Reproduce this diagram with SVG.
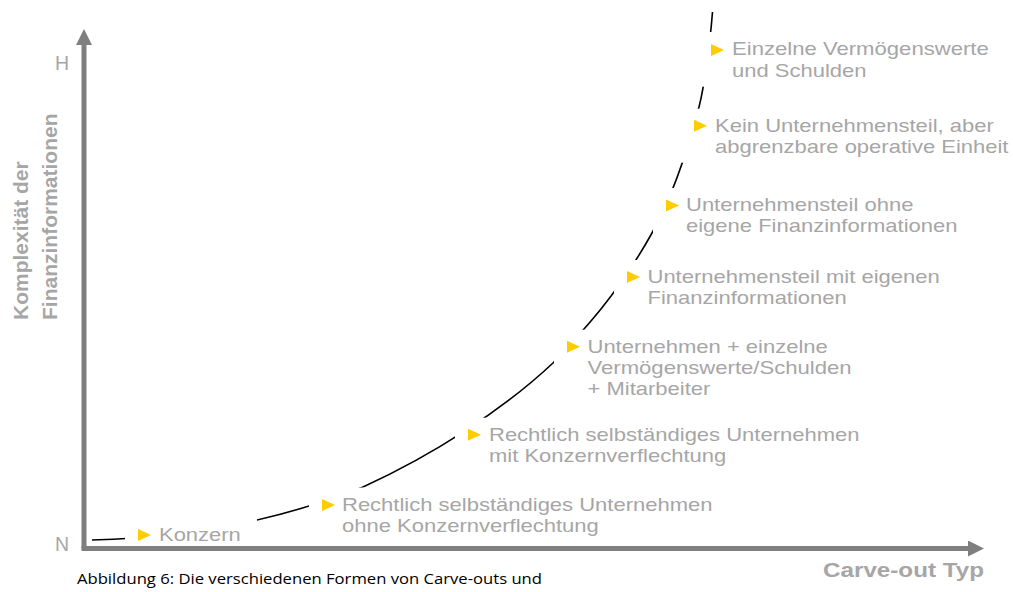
<svg xmlns="http://www.w3.org/2000/svg" width="1013" height="592" viewBox="0 0 1013 592">
  <style>
    .lbl { font-family: "Liberation Sans", Arial, sans-serif; font-size: 19px; fill: #a6a6a6; }
    .axt { font-family: "Liberation Sans", Arial, sans-serif; font-weight: bold; fill: #a6a6a6; }
    .hn { font-family: "Liberation Sans", Arial, sans-serif; font-size: 19.5px; fill: #a6a6a6; }
    .cap { font-family: "Open Sans", "Liberation Sans", sans-serif; font-size: 14.5px; fill: #000000; }
    .bg { fill: #ffffff; }
    .tri { fill: #ffcc00; }
    .curve { fill: none; stroke: #000000; stroke-width: 1.6; }
    .axis { fill: none; stroke: #7f7f7f; stroke-width: 5; }
  </style>
  <defs>
    <marker id="axisHead" viewBox="0 0 16 16" refX="0" refY="8" markerWidth="16" markerHeight="16" markerUnits="userSpaceOnUse" orient="auto">
      <path d="M0,0 L16,8 L0,16 z" fill="#7f7f7f"/>
    </marker>
    <path id="bullet" d="M0,-12 L13,-6 L0,0 z"/>
  </defs>

  <rect width="1013" height="592" fill="#ffffff"/>

  <!-- growth curve; label backgrounds cut it into pieces -->
  <g id="connectors">
    <path class="curve" d="M92,540 C182,538 273,523 363,487 C433,455 503,410 553,363 C584,330 618,294 652,233 C668,204.4 683,168 699,107 C704,88 710,44 712.5,12"/>
  </g>

  <g id="node-konzern">
    <rect class="bg" x="125" y="518" width="132" height="30"/>
    <use href="#bullet" class="tri" x="138" y="541"/>
    <text class="lbl" x="159" y="541" textLength="81.7" lengthAdjust="spacingAndGlyphs">Konzern</text>
  </g>

  <g id="node-ohne-verflechtung">
    <rect class="bg" x="309" y="487.5" width="420" height="52"/>
    <use href="#bullet" class="tri" x="322" y="511"/>
    <text class="lbl" x="342" y="510.5" textLength="370.5" lengthAdjust="spacingAndGlyphs">Rechtlich selbständiges Unternehmen</text>
    <text class="lbl" x="342" y="531.5" textLength="256.8" lengthAdjust="spacingAndGlyphs">ohne Konzernverflechtung</text>
  </g>

  <g id="node-mit-verflechtung">
    <rect class="bg" x="455" y="417.7" width="420" height="54"/>
    <use href="#bullet" class="tri" x="468" y="440.7"/>
    <text class="lbl" x="489" y="440.7" textLength="370.5" lengthAdjust="spacingAndGlyphs">Rechtlich selbständiges Unternehmen</text>
    <text class="lbl" x="489" y="462" textLength="237.2" lengthAdjust="spacingAndGlyphs">mit Konzernverflechtung</text>
  </g>

  <g id="node-unternehmen-plus">
    <rect class="bg" x="554" y="329.7" width="310" height="74"/>
    <use href="#bullet" class="tri" x="567" y="352.7"/>
    <text class="lbl" x="587.5" y="352.7" textLength="240.3" lengthAdjust="spacingAndGlyphs">Unternehmen + einzelne</text>
    <text class="lbl" x="587.5" y="374" textLength="264.1" lengthAdjust="spacingAndGlyphs">Vermögenswerte/Schulden</text>
    <text class="lbl" x="587.5" y="395.3" textLength="122.9" lengthAdjust="spacingAndGlyphs">+ Mitarbeiter</text>
  </g>

  <g id="node-teil-mit-fi">
    <rect class="bg" x="614" y="260" width="340" height="54"/>
    <use href="#bullet" class="tri" x="627" y="283"/>
    <text class="lbl" x="647.5" y="283" textLength="292.2" lengthAdjust="spacingAndGlyphs">Unternehmensteil mit eigenen</text>
    <text class="lbl" x="647.5" y="304.3" textLength="199.3" lengthAdjust="spacingAndGlyphs">Finanzinformationen</text>
  </g>

  <g id="node-teil-ohne-fi">
    <rect class="bg" x="653" y="188" width="330" height="54"/>
    <use href="#bullet" class="tri" x="666" y="211.5"/>
    <text class="lbl" x="686" y="211" textLength="227.4" lengthAdjust="spacingAndGlyphs">Unternehmensteil ohne</text>
    <text class="lbl" x="686" y="232.3" textLength="271.5" lengthAdjust="spacingAndGlyphs">eigene Finanzinformationen</text>
  </g>

  <g id="node-operative-einheit">
    <rect class="bg" x="681" y="108.7" width="332" height="54"/>
    <use href="#bullet" class="tri" x="694" y="131.7"/>
    <text class="lbl" x="715" y="131.7" textLength="278.8" lengthAdjust="spacingAndGlyphs">Kein Unternehmensteil, aber</text>
    <text class="lbl" x="715" y="153" textLength="293.5" lengthAdjust="spacingAndGlyphs">abgrenzbare operative Einheit</text>
  </g>

  <g id="node-einzelne-werte">
    <rect class="bg" x="698" y="32" width="315" height="54.7"/>
    <use href="#bullet" class="tri" x="711" y="56"/>
    <text class="lbl" x="732" y="55" textLength="256.8" lengthAdjust="spacingAndGlyphs">Einzelne Vermögenswerte</text>
    <text class="lbl" x="732" y="76.5" textLength="134.5" lengthAdjust="spacingAndGlyphs">und Schulden</text>
  </g>

  <!-- axes -->
  <g id="axes">
    <path class="axis" d="M84,548.5 L84,45" marker-end="url(#axisHead)"/>
    <path class="axis" d="M81.5,548.5 L968,548.5" marker-end="url(#axisHead)"/>
    <text class="hn" x="55" y="70">H</text>
    <text class="hn" x="55" y="551">N</text>
    <text class="axt" font-size="21" transform="translate(28,320) rotate(-90)">Komplexität der</text>
    <text class="axt" font-size="21" transform="translate(57,320) rotate(-90)">Finanzinformationen</text>
    <text class="axt" font-size="20" x="823" y="577" textLength="161" lengthAdjust="spacingAndGlyphs">Carve-out Typ</text>
  </g>

  <text class="cap" x="77" y="584" textLength="465" lengthAdjust="spacingAndGlyphs">Abbildung 6: Die verschiedenen Formen von Carve-outs und</text>
</svg>
